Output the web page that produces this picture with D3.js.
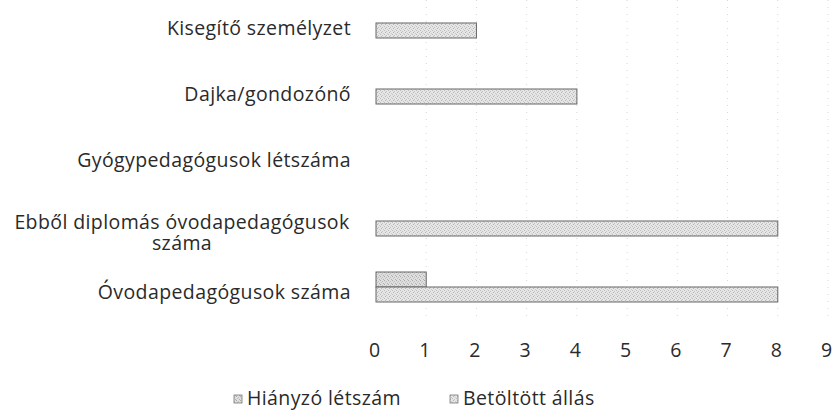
<!DOCTYPE html>
<html><head><meta charset="utf-8">
<script src="https://cdn.jsdelivr.net/npm/d3@7"></script>
<style>
body{margin:0;background:#fff;}
svg{display:block;font-family:"Open Sans",Lato,sans-serif;}
</style></head>
<body><svg id="c" width="834" height="414"></svg>
<script>
const categories = ["Kisegítő személyzet","Dajka/gondozónő","Gyógypedagógusok létszáma","Ebből diplomás óvodapedagógusok száma","Óvodapedagógusok száma"];
const categoryLines = [["Kisegítő személyzet"],["Dajka/gondozónő"],["Gyógypedagógusok létszáma"],["Ebből diplomás óvodapedagógusok","száma"],["Óvodapedagógusok száma"]];
const seriesNames = ["Hiányzó létszám","Betöltött állás"];
const hianyzo = [0,0,0,0,1];
const betoltott = [2,4,0,8,8];
const xTicks = [0,1,2,3,4,5,6,7,8,9];

const FS = 19.5;
const TXT = "#2a2a2a";
const svg = d3.select("#c");
const defs = svg.append("defs");
function pat(id, base, dots){
  const p = defs.append("pattern").attr("id",id).attr("width",4).attr("height",4).attr("patternUnits","userSpaceOnUse");
  p.append("rect").attr("width",4).attr("height",4).attr("fill",base);
  dots.forEach(d=>p.append("rect").attr("x",d[0]).attr("y",d[1]).attr("width",1).attr("height",1).attr("fill",d[2]));
}
pat("pH","#dedede",[[0,0,"#a8a8a8"],[2,1,"#bdbdbd"],[1,2,"#c4c4c4"],[3,3,"#b0b0b0"]]);
pat("pB","#e6e6e6",[[1,0,"#b4b4b4"],[3,1,"#c8c8c8"],[0,2,"#bcbcbc"],[2,3,"#c0c0c0"]]);
const fills = {"Hiányzó létszám":"url(#pH)","Betöltött állás":"url(#pB)"};

const x = d3.scaleLinear().domain([0,9]).range([376,828]);
const y0 = d3.scaleBand().domain(categories).range([-10,320]);
const y1 = d3.scaleBand().domain(seriesNames).range([0,30]);

// gridlines
svg.append("g").selectAll("line").data(xTicks.slice(1)).join("line")
  .attr("x1",d=>x(d)).attr("x2",d=>x(d)).attr("y1",0).attr("y2",320)
  .attr("stroke","#d6d6d6").attr("stroke-width",1).attr("stroke-dasharray","1,6");

// bars
const data = [];
categories.forEach((c,i)=>{
  data.push({c, s:seriesNames[0], v:hianyzo[i]});
  data.push({c, s:seriesNames[1], v:betoltott[i]});
});
svg.append("g").selectAll("rect").data(data.filter(d=>d.v>0)).join("rect")
  .attr("x",x(0)).attr("width",d=>x(d.v)-x(0))
  .attr("y",d=>y0(d.c)+y0.bandwidth()/2-15+y1(d.s)).attr("height",y1.bandwidth())
  .attr("fill",d=>fills[d.s]).attr("stroke","#666").attr("stroke-width",1);

// category labels
const lab = svg.append("g").attr("font-size",FS).attr("fill",TXT).attr("letter-spacing","0.4px");
categories.forEach((c,i)=>{
  const lines = categoryLines[i];
  const multi = lines.length>1;
  const cy = y0(c)+y0.bandwidth()/2+5 + (multi?7:0);
  const t = lab.append("text").attr("text-anchor", multi?"middle":"end");
  lines.forEach((l,j)=>{
    t.append("tspan").attr("x",multi?182:351).attr("y",cy + (j-(lines.length-1)/2)*21).attr("dy","0.35em").text(l);
  });
});

// x axis
const ax = d3.axisBottom(x).tickValues(xTicks).tickSize(0).tickPadding(0);
const g = svg.append("g").attr("transform","translate(0,343)").call(ax);
g.select(".domain").remove();
g.selectAll("text").attr("font-size",FS).attr("font-family","'Open Sans',Lato,sans-serif").attr("fill",TXT).attr("x",-2);

// legend
const leg = svg.append("g").attr("font-size",FS).attr("fill",TXT).attr("letter-spacing","0.4px");
const legX = [234,450];
seriesNames.forEach((s,i)=>{
  leg.append("rect").attr("x",legX[i]).attr("y",395).attr("width",8).attr("height",8)
    .attr("fill",fills[s]).attr("stroke","#777").attr("stroke-width",0.8);
  leg.append("text").attr("x",legX[i]+13).attr("y",398).attr("dy","0.35em").text(s);
});
</script></body></html>
